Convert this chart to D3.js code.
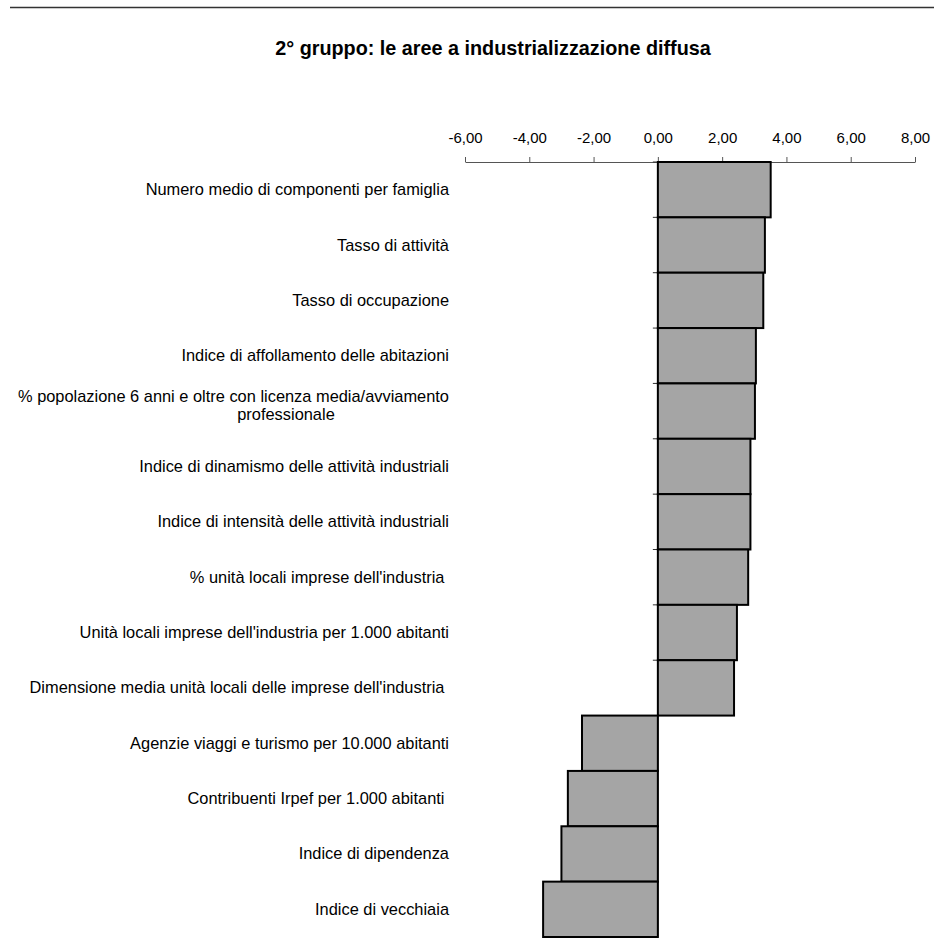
<!DOCTYPE html>
<html><head><meta charset="utf-8">
<script src="https://cdn.jsdelivr.net/npm/d3@7"></script>
<style>body{margin:0;background:#fff;} svg{display:block;font-family:"Liberation Sans",Arial,sans-serif;} text{white-space:pre;}</style>
</head><body>
<script>
const title = "2° gruppo: le aree a industrializzazione diffusa";
const categories = [
  ["Numero medio di componenti per famiglia"],
  ["Tasso di attività"],
  ["Tasso di occupazione"],
  ["Indice di affollamento delle abitazioni"],
  ["% popolazione 6 anni e oltre con licenza media/avviamento", "professionale"],
  ["Indice di dinamismo delle attività industriali"],
  ["Indice di intensità delle attività industriali"],
  ["% unità locali imprese dell'industria "],
  ["Unità locali imprese dell'industria per 1.000 abitanti"],
  ["Dimensione media unità locali delle imprese dell'industria "],
  ["Agenzie viaggi e turismo per 10.000 abitanti"],
  ["Contribuenti Irpef per 1.000 abitanti "],
  ["Indice di dipendenza"],
  ["Indice di vecchiaia"]
];
const values = [3.51, 3.33, 3.28, 3.05, 3.02, 2.88, 2.88, 2.81, 2.46, 2.37, -2.36, -2.80, -3.00, -3.57];
const tickValues = [-6, -4, -2, 0, 2, 4, 6, 8];

const W = 934, H = 951;
const svg = d3.select("body").append("svg").attr("width", W).attr("height", H);

svg.append("line").attr("x1", 10).attr("x2", 934).attr("y1", 7.5).attr("y2", 7.5)
  .attr("stroke", "#333").attr("stroke-width", 1.6);

svg.append("text").attr("x", 493).attr("y", 55).attr("text-anchor", "middle")
  .attr("font-size", 19.8).attr("font-weight", "bold").text(title);

const x = d3.scaleLinear().domain([-6, 8]).range([465, 915]);
const y = d3.scaleBand().domain(d3.range(categories.length)).range([162, 937]).padding(0);

// x axis on top
const fmt = d => d3.format(".2f")(d).replace(".", ",").replace("\u2212", "-");
const xAxis = svg.append("g").attr("transform", "translate(0,162)")
  .call(d3.axisTop(x).tickValues(tickValues).tickFormat(fmt).tickSize(5).tickSizeOuter(0));
xAxis.select(".domain").attr("stroke", "#555");
xAxis.selectAll(".tick line").attr("stroke", "#555");
xAxis.selectAll(".tick text").attr("font-size", 15).attr("fill", "#000").attr("y", -19).attr("dy", "0")
  .attr("font-family", "Liberation Sans, Arial, sans-serif");

// category axis ticks at zero
const ticksG = svg.append("g");
d3.range(categories.length + 1).forEach(i => {
  const yy = i < categories.length ? y(i) : y.range()[1];
  ticksG.append("line").attr("x1", x(0) - 5).attr("x2", x(0)).attr("y1", yy).attr("y2", yy)
    .attr("stroke", "#333");
});
ticksG.append("line").attr("x1", x(0)).attr("x2", x(0)).attr("y1", 162).attr("y2", 937).attr("stroke", "#000");

// bars
svg.append("g").selectAll("rect").data(values).join("rect")
  .attr("x", d => x(Math.min(0, d)))
  .attr("width", d => Math.abs(x(d) - x(0)))
  .attr("y", (d, i) => y(i))
  .attr("height", y.bandwidth())
  .attr("fill", "#a5a5a5").attr("stroke", "#000").attr("stroke-width", 2);

// category labels
const lab = svg.append("g");
const fs = 16.4;
categories.forEach((lines, i) => {
  const cy = y(i) + y.bandwidth() / 2;
  if (lines.length === 1) {
    lab.append("text").attr("x", 449).attr("y", cy + 5.5).attr("text-anchor", "end")
      .attr("font-size", fs).text(lines[0]);
  } else {
    lab.append("text").attr("x", 449).attr("y", cy - 9).attr("text-anchor", "end")
      .attr("font-size", fs).text(lines[0]);
    lab.append("text").attr("x", 286).attr("y", cy + 9).attr("text-anchor", "middle")
      .attr("font-size", fs).text(lines[1]);
  }
});
</script>
</body></html>
